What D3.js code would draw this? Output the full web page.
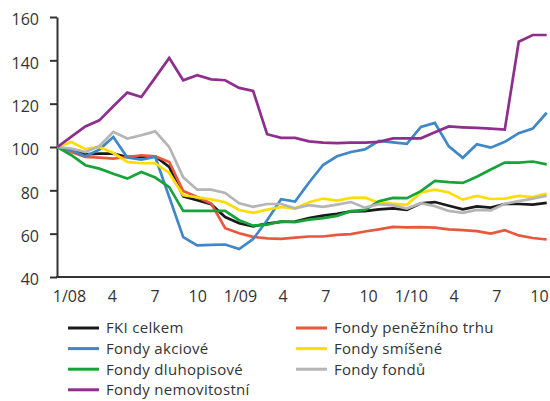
<!DOCTYPE html>
<html>
<head>
<meta charset="utf-8">
<script src="https://cdn.jsdelivr.net/npm/d3@7"></script>
<style>
  html, body { margin: 0; padding: 0; background: #fff; }
  svg { display: block; font-family: "Open Sans", sans-serif; }
</style>
</head>
<body>
<svg id="chart" width="550" height="401"></svg>
<script>
// Index of fund groups (31.12.2007 = 100), monthly values
const months = d3.range(36); // 12/07 .. 11/10

const fkiCelkem = [100, 98.5, 96.6, 96.9, 96.9, 95.4, 95.4, 95.7, 90.8, 77.2, 75.4, 73.6, 67.7, 64.8, 63.4, 64.6, 65.4, 65.6, 67.2, 68.3, 69.1, 70.3, 70.4, 71.2, 71.7, 71.0, 74.0, 74.6, 72.9, 71.2, 72.6, 72.0, 73.7, 73.7, 73.4, 74.2];
const penezniTrh = [100, 97.7, 95.4, 95.1, 94.6, 95.4, 96.2, 95.7, 93.1, 79.7, 76.9, 73.9, 62.5, 60.2, 58.5, 57.8, 57.6, 58.2, 58.7, 58.7, 59.4, 59.8, 61.0, 62.0, 63.1, 62.9, 63.0, 62.8, 62.0, 61.6, 61.2, 60.0, 61.6, 59.2, 58.0, 57.3];
const akciove = [100, 98.5, 95.7, 98.8, 104.6, 95.1, 94.2, 95.4, 76.9, 58.4, 54.6, 54.8, 55.0, 52.9, 57.5, 66.2, 75.9, 74.8, 83.6, 91.7, 95.7, 97.7, 98.9, 102.8, 102.1, 101.5, 109.3, 111.1, 100.3, 95.0, 101.3, 99.7, 102.4, 106.4, 108.5, 115.8];
const smisene = [100, 102.3, 99.0, 100.0, 97.2, 93.1, 92.5, 92.5, 88.0, 77.7, 76.8, 75.8, 74.5, 70.9, 69.6, 71.1, 72.3, 71.6, 74.5, 76.2, 75.3, 76.5, 76.6, 74.3, 73.9, 73.3, 79.0, 80.3, 79.0, 75.7, 77.4, 76.0, 76.2, 77.4, 76.9, 78.5];
const dluhopisove = [100, 96.2, 91.6, 90.0, 87.7, 85.4, 88.5, 85.9, 81.5, 70.5, 70.5, 70.5, 70.5, 66.2, 63.7, 64.2, 65.7, 65.3, 66.5, 67.2, 68.2, 70.4, 71.0, 75.0, 76.5, 76.4, 79.6, 84.4, 83.8, 83.4, 86.3, 89.6, 92.8, 92.8, 93.3, 92.0];
const fondyFondu = [100, 99.3, 97.7, 100.4, 107.0, 103.9, 105.4, 107.2, 100.0, 86.0, 80.3, 80.3, 78.8, 74.0, 72.4, 73.7, 73.7, 71.7, 73.2, 72.4, 73.4, 74.6, 72.0, 73.6, 73.1, 71.6, 74.1, 72.7, 70.5, 69.6, 71.0, 70.7, 73.8, 75.0, 76.2, 77.5];
const nemovitostni = [100, 104.8, 109.5, 112.3, 118.8, 125.1, 123.1, 132.0, 141.1, 130.8, 133.1, 131.2, 130.8, 127.3, 125.9, 105.9, 104.2, 104.2, 102.6, 102.0, 101.8, 102.0, 102.0, 102.4, 104.0, 104.0, 104.0, 106.8, 109.5, 109.1, 108.8, 108.5, 108.0, 148.6, 151.7, 151.7];

const seriesNames = ["FKI celkem", "Fondy peněžního trhu", "Fondy akciové", "Fondy smíšené", "Fondy dluhopisové", "Fondy fondů", "Fondy nemovitostní"];
const seriesValues = [fkiCelkem, penezniTrh, akciove, smisene, dluhopisove, fondyFondu, nemovitostni];
const seriesColors = ["#1a1a1a", "#e9583c", "#3f87c9", "#ffdd00", "#16a33a", "#b5b5b5", "#8e2f8d"];

const yTicks = [40, 60, 80, 100, 120, 140, 160];
const xTickMonths = [1, 4, 7, 10, 13, 16, 19, 22, 25, 28, 31, 34];
const xTickLabels = ["1/08", "4", "7", "10", "1/09", "4", "7", "10", "1/10", "4", "7", "10"];

const svg = d3.select("#chart");
const textColor = "#333";

const x = d3.scaleLinear().domain([0, 35]).range([57.4, 546.7]);
const xLabel = d3.scaleLinear().domain([1, 34]).range([69, 539]);
const y = d3.scaleLinear().domain([40, 160]).range([277, 17]);

// Y axis
const yAxis = svg.append("g")
  .attr("transform", "translate(57,0)")
  .call(d3.axisLeft(y).tickValues(yTicks).tickSize(7).tickPadding(11).tickSizeOuter(0));
yAxis.select(".domain").attr("stroke", textColor).attr("stroke-width", 2);
yAxis.selectAll(".tick line").attr("stroke", textColor).attr("stroke-width", 2);
yAxis.selectAll(".tick text").attr("fill", textColor).attr("font-size", 16)
  .attr("font-family", "Open Sans, sans-serif").attr("dy", "0.48em");

// X axis (labels only, baseline line)
const xAxis = svg.append("g")
  .attr("transform", "translate(0,277)")
  .call(d3.axisBottom(xLabel).tickValues(xTickMonths)
    .tickFormat((d, i) => xTickLabels[i]).tickSize(0).tickPadding(14));
xAxis.select(".domain").remove();
xAxis.selectAll(".tick text").attr("fill", textColor).attr("font-size", 16)
  .attr("font-family", "Open Sans, sans-serif");
svg.append("line")
  .attr("x1", 56).attr("x2", 550).attr("y1", y(40)).attr("y2", y(40))
  .attr("stroke", textColor).attr("stroke-width", 2);

// Series lines
const line = d3.line().x((d, i) => x(months[i])).y(d => y(d));
svg.append("g").selectAll("path")
  .data(seriesValues)
  .join("path")
  .attr("d", line)
  .attr("fill", "none")
  .attr("stroke", (d, i) => seriesColors[i])
  .attr("stroke-width", 2.7)
  .attr("stroke-linejoin", "miter");

// Legend: two columns, row-major
const legend = svg.append("g");
const legendItem = legend.selectAll("g")
  .data(seriesNames)
  .join("g")
  .attr("transform", (d, i) => `translate(${i % 2 === 0 ? 68 : 296},${328 + Math.floor(i / 2) * 20.6})`);
legendItem.append("line")
  .attr("x1", 0).attr("x2", 31).attr("y1", 0).attr("y2", 0)
  .attr("stroke", (d, i) => seriesColors[i]).attr("stroke-width", 3);
legendItem.append("text")
  .attr("x", 38).attr("y", 0).attr("dy", "0.36em")
  .attr("fill", textColor).attr("font-size", 15)
  .attr("letter-spacing", 0.3)
  .text(d => d);
</script>
</body>
</html>
